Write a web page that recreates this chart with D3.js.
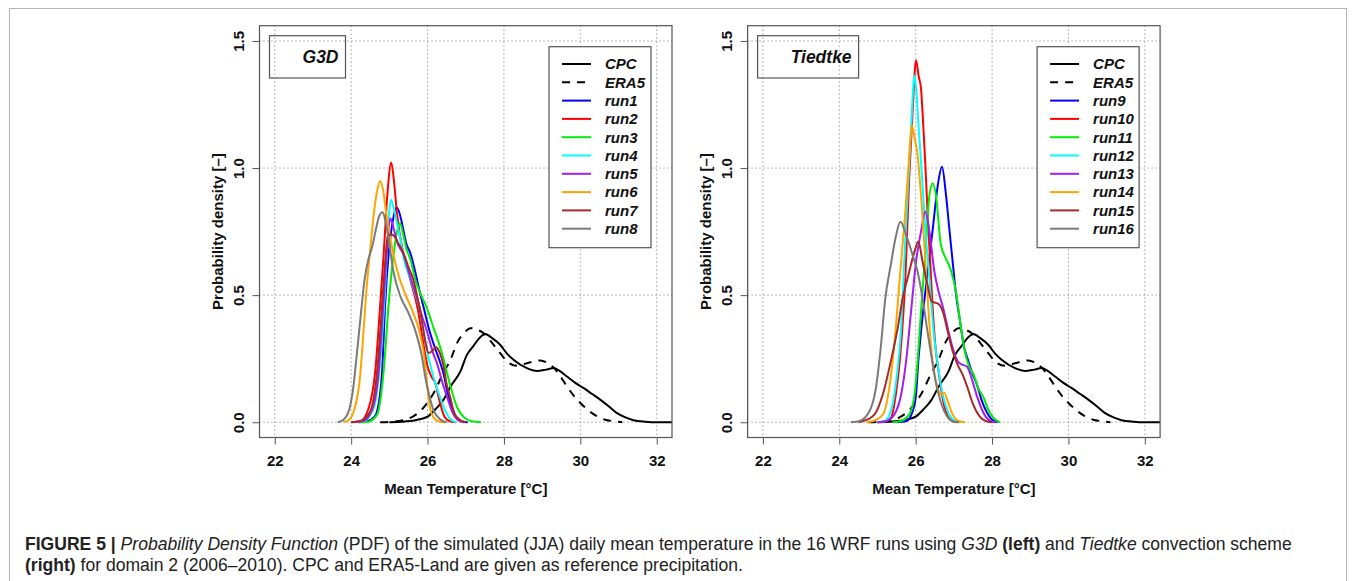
<!DOCTYPE html>
<html><head><meta charset="utf-8">
<script src="https://cdn.jsdelivr.net/npm/d3@7"></script>
<style>
body{margin:0;background:#fff}
svg{display:block}
text{font-family:"Liberation Sans",Arial,Helvetica,sans-serif}
</style>
</head><body>
<svg id="chart" width="1355" height="581"></svg>
<script>
// ---------------- DATA ----------------
const xTicks = [22, 24, 26, 28, 30, 32];
const yTicks = [0, 0.5, 1.0, 1.5];
const yTickLabels = ["0.0", "0.5", "1.0", "1.5"];
const xTitle = "Mean Temperature [°C]";
const yTitle = "Probability density [–]";
const panelTitles = ["G3D", "Tiedtke"];

const cpc = [[25.0,0],[25.4,0.003],[25.8,0.012],[26.0,0.022],[26.2,0.05],[26.42,0.089],[26.6,0.14],[26.86,0.2],[27.03,0.265],[27.2,0.3],[27.35,0.33],[27.51,0.347],[27.7,0.33],[27.9,0.305],[28.08,0.27],[28.25,0.246],[28.6,0.213],[28.86,0.202],[29.1,0.207],[29.3,0.213],[29.45,0.203],[29.65,0.18],[29.85,0.157],[30.08,0.135],[30.3,0.112],[30.52,0.089],[30.75,0.062],[30.95,0.037],[31.2,0.018],[31.39,0.008],[31.7,0.002],[32.0,0],[32.4,0]];
const era5 = [[24.76,0],[25.2,0.004],[25.55,0.017],[25.85,0.05],[26.16,0.115],[26.4,0.19],[26.6,0.246],[26.8,0.32],[26.94,0.348],[27.12,0.37],[27.3,0.364],[27.47,0.35],[27.7,0.31],[27.9,0.272],[28.1,0.237],[28.34,0.222],[28.6,0.232],[28.95,0.243],[29.12,0.235],[29.3,0.215],[29.48,0.18],[29.65,0.141],[29.85,0.1],[30.0,0.076],[30.2,0.048],[30.43,0.024],[30.65,0.01],[30.87,0.004],[31.1,0]];

const run1 = [[24.2,0],[24.42,0.004],[24.6,0.02],[24.68,0.043],[24.81,0.2],[24.89,0.462],[24.98,0.659],[25.1,0.8],[25.18,0.845],[25.25,0.83],[25.32,0.79],[25.45,0.7],[25.55,0.665],[25.68,0.59],[25.8,0.51],[25.9,0.45],[26.05,0.36],[26.2,0.29],[26.32,0.24],[26.42,0.19],[26.52,0.12],[26.64,0.06],[26.75,0.02],[26.9,0.003],[27.05,0]];
const run2 = [[24.0,0],[24.24,0.004],[24.46,0.056],[24.63,0.2],[24.76,0.462],[24.85,0.659],[24.95,0.9],[25.05,1.022],[25.12,0.95],[25.2,0.82],[25.37,0.66],[25.55,0.56],[25.75,0.44],[25.9,0.3],[26.0,0.22],[26.1,0.18],[26.2,0.155],[26.32,0.08],[26.45,0.02],[26.6,0.003],[26.75,0]];
const run3 = [[24.2,0],[24.42,0.001],[24.68,0.03],[24.85,0.2],[24.98,0.462],[25.11,0.659],[25.2,0.75],[25.28,0.783],[25.36,0.74],[25.45,0.68],[25.55,0.64],[25.68,0.56],[25.81,0.508],[25.98,0.45],[26.16,0.37],[26.3,0.31],[26.4,0.26],[26.51,0.194],[26.64,0.12],[26.77,0.06],[26.95,0.02],[27.15,0.004],[27.4,0]];
const run4 = [[24.1,0],[24.33,0.004],[24.59,0.056],[24.76,0.24],[24.89,0.528],[24.98,0.8],[25.04,0.875],[25.12,0.84],[25.19,0.79],[25.29,0.72],[25.37,0.65],[25.58,0.55],[25.8,0.44],[26.0,0.27],[26.15,0.18],[26.3,0.11],[26.45,0.05],[26.6,0.012],[26.75,0]];
const run5 = [[24.05,0],[24.3,0.004],[24.55,0.05],[24.72,0.2],[24.84,0.46],[24.93,0.66],[25.02,0.803],[25.1,0.77],[25.2,0.71],[25.37,0.66],[25.55,0.57],[25.7,0.5],[25.85,0.42],[25.98,0.36],[26.15,0.27],[26.25,0.23],[26.38,0.16],[26.51,0.1],[26.65,0.04],[26.77,0.012],[26.95,0]];
const run6 = [[23.8,0],[23.95,0.01],[24.1,0.06],[24.22,0.16],[24.32,0.35],[24.4,0.52],[24.5,0.68],[24.6,0.83],[24.68,0.91],[24.76,0.949],[24.84,0.91],[24.92,0.82],[25.03,0.72],[25.2,0.6],[25.4,0.51],[25.6,0.44],[25.78,0.36],[25.9,0.27],[25.98,0.16],[26.05,0.07],[26.15,0.02],[26.3,0.003],[26.45,0]];
const run7 = [[24.0,0],[24.24,0.004],[24.5,0.043],[24.68,0.2],[24.81,0.462],[24.89,0.632],[24.96,0.73],[25.05,0.74],[25.14,0.73],[25.25,0.7],[25.37,0.665],[25.5,0.61],[25.63,0.56],[25.75,0.48],[25.85,0.4],[25.95,0.31],[26.03,0.272],[26.12,0.28],[26.22,0.295],[26.3,0.28],[26.42,0.22],[26.5,0.15],[26.59,0.1],[26.7,0.035],[26.86,0.008],[27.0,0]];
const run8 = [[23.65,0],[23.8,0.01],[23.95,0.05],[24.05,0.13],[24.15,0.27],[24.25,0.42],[24.35,0.56],[24.45,0.64],[24.55,0.69],[24.65,0.76],[24.73,0.81],[24.82,0.826],[24.9,0.79],[24.98,0.72],[25.11,0.59],[25.29,0.495],[25.5,0.43],[25.68,0.36],[25.85,0.26],[25.95,0.17],[26.03,0.115],[26.15,0.05],[26.25,0.024],[26.4,0.004],[26.5,0]];

const run9 = [[25.5,0],[25.75,0.004],[25.92,0.043],[26.01,0.109],[26.07,0.24],[26.15,0.37],[26.29,0.56],[26.45,0.763],[26.58,0.933],[26.69,1.005],[26.79,0.9],[26.88,0.763],[26.97,0.63],[27.06,0.5],[27.16,0.4],[27.26,0.3],[27.36,0.25],[27.49,0.19],[27.6,0.15],[27.72,0.09],[27.86,0.04],[28.0,0.01],[28.15,0]];
const run10 = [[25.1,0],[25.35,0.017],[25.48,0.109],[25.62,0.305],[25.73,0.567],[25.83,0.959],[25.92,1.221],[26.01,1.424],[26.08,1.36],[26.14,1.313],[26.18,1.22],[26.25,1.025],[26.31,0.829],[26.38,0.632],[26.45,0.436],[26.53,0.279],[26.6,0.2],[26.66,0.135],[26.79,0.043],[26.97,0.004],[27.1,0]];
const run11 = [[25.4,0],[25.6,0.004],[25.83,0.03],[25.97,0.109],[26.05,0.24],[26.14,0.436],[26.27,0.698],[26.36,0.894],[26.45,0.94],[26.53,0.894],[26.66,0.698],[26.79,0.645],[26.92,0.6],[27.07,0.5],[27.16,0.4],[27.3,0.27],[27.4,0.22],[27.51,0.19],[27.65,0.13],[27.77,0.1],[27.9,0.05],[28.05,0.015],[28.2,0]];
const run12 = [[25.0,0],[25.18,0.004],[25.35,0.043],[25.5,0.174],[25.62,0.37],[25.7,0.632],[25.79,0.894],[25.88,1.156],[25.97,1.365],[26.02,1.3],[26.08,1.156],[26.17,0.959],[26.25,0.763],[26.36,0.567],[26.46,0.37],[26.58,0.226],[26.71,0.109],[26.88,0.03],[27.06,0.004],[27.2,0]];
const run13 = [[25.0,0],[25.22,0.004],[25.44,0.03],[25.62,0.109],[25.75,0.24],[25.88,0.436],[26.01,0.632],[26.14,0.75],[26.25,0.829],[26.36,0.75],[26.49,0.593],[26.6,0.514],[26.72,0.449],[26.84,0.37],[26.97,0.292],[27.1,0.24],[27.23,0.226],[27.34,0.22],[27.49,0.161],[27.62,0.096],[27.8,0.03],[27.97,0.004],[28.1,0]];
const run14 = [[24.7,0],[24.87,0.004],[25.14,0.03],[25.31,0.135],[25.44,0.305],[25.55,0.501],[25.62,0.632],[25.73,0.829],[25.82,1.025],[25.9,1.169],[25.97,1.12],[26.05,1.051],[26.14,0.894],[26.23,0.698],[26.31,0.501],[26.4,0.305],[26.49,0.187],[26.6,0.122],[26.68,0.11],[26.75,0.115],[26.84,0.082],[26.97,0.03],[27.14,0.004],[27.3,0]];
const run15 = [[24.5,0],[24.61,0.004],[24.92,0.03],[25.14,0.109],[25.35,0.24],[25.53,0.37],[25.66,0.488],[25.79,0.567],[25.97,0.671],[26.07,0.711],[26.18,0.632],[26.31,0.541],[26.42,0.475],[26.5,0.471],[26.6,0.465],[26.71,0.436],[26.84,0.357],[26.97,0.279],[27.1,0.226],[27.23,0.187],[27.36,0.135],[27.49,0.076],[27.67,0.024],[27.89,0.002],[28.0,0]];
const run16 = [[24.3,0],[24.52,0.004],[24.79,0.043],[24.96,0.135],[25.09,0.3],[25.2,0.48],[25.35,0.62],[25.48,0.73],[25.6,0.789],[25.75,0.737],[25.92,0.658],[26.05,0.593],[26.18,0.488],[26.31,0.357],[26.45,0.226],[26.58,0.122],[26.75,0.043],[26.97,0.004],[27.14,0]];

const leftNames = ["CPC","ERA5","run1","run2","run3","run4","run5","run6","run7","run8"];
const rightNames = ["CPC","ERA5","run9","run10","run11","run12","run13","run14","run15","run16"];
const leftSeries = [cpc, era5, run1, run2, run3, run4, run5, run6, run7, run8];
const rightSeries = [cpc, era5, run9, run10, run11, run12, run13, run14, run15, run16];

// ---------------- STYLE ----------------
const seriesColors = ["#000000","#000000","#0000FF","#FF0000","#00EE00","#00FFFF","#A020F0","#FFA500","#A52A2A","#7A7A7A"];
const seriesDash = [null,"8,7",null,null,null,null,null,null,null,null];
const font = '"Liberation Sans",Arial,Helvetica,sans-serif';

const svg = d3.select("#chart");

// outer figure frame
svg.append("rect").attr("x",9.5).attr("y",8.5).attr("width",1337).attr("height",600)
  .attr("fill","none").attr("stroke","#b5b5b5").attr("stroke-width",1);

const plotTop = 25.7, plotBottom = 437.5, plotW = 412.5;

function drawPanel(left, title, names, series, titleBoxW) {
  const g = svg.append("g");
  const x = d3.scaleLinear().domain([21.6, 32.4]).range([left, left + plotW]);
  const y = d3.scaleLinear().domain([-0.06, 1.56]).range([plotBottom, plotTop]);

  // grid
  const grid = g.append("g").attr("stroke","#777").attr("stroke-width",1).attr("stroke-dasharray","1,3");
  xTicks.forEach(t => grid.append("line").attr("x1",x(t)).attr("x2",x(t)).attr("y1",plotTop).attr("y2",plotBottom));
  yTicks.forEach(t => grid.append("line").attr("x1",left).attr("x2",left+plotW).attr("y1",y(t)).attr("y2",y(t)));

  // curves
  const line = d3.line().x(d => x(d[0])).y(d => y(d[1])).curve(d3.curveMonotoneX);
  series.forEach((s, i) => {
    g.append("path").attr("d", line(s)).attr("fill","none")
      .attr("stroke", seriesColors[i]).attr("stroke-width", 2)
      .attr("stroke-linejoin","round").attr("stroke-linecap","butt")
      .attr("stroke-dasharray", seriesDash[i]);
  });

  // frame
  g.append("rect").attr("x",left).attr("y",plotTop).attr("width",plotW).attr("height",plotBottom-plotTop)
    .attr("fill","none").attr("stroke","#555").attr("stroke-width",1.2);

  // axes
  const xAxis = d3.axisBottom(x).tickValues(xTicks).tickSize(7).tickPadding(3).tickFormat(d3.format("d"));
  const xa = g.append("g").attr("transform",`translate(0,${plotBottom})`).call(xAxis);
  xa.select(".domain").attr("stroke","#555").attr("d",`M${x(22)},0H${x(32)}`);
  xa.selectAll(".tick line").attr("stroke","#555");
  xa.selectAll(".tick text").attr("font-family",font).attr("font-size",15).attr("font-weight","bold")
    .attr("fill","#111").attr("dy",null).attr("y",28.5);

  const yAxis = d3.axisLeft(y).tickValues(yTicks).tickSize(7).tickFormat((d,i) => yTickLabels[i]);
  const ya = g.append("g").attr("transform",`translate(${left},0)`).call(yAxis);
  ya.select(".domain").attr("stroke","#555").attr("d",`M0,${y(0)}V${y(1.5)}`);
  ya.selectAll(".tick line").attr("stroke","#555");
  ya.selectAll(".tick text").attr("font-family",font).attr("font-size",15).attr("font-weight","bold")
    .attr("fill","#111").attr("dy",null).attr("x",null).attr("text-anchor","middle")
    .attr("transform","translate(-15.5,0) rotate(-90)");

  // axis titles
  g.append("text").attr("x", left + plotW/2).attr("y", 494).attr("text-anchor","middle")
    .attr("font-family",font).attr("font-size",15).attr("font-weight","bold").attr("fill","#111").text(xTitle);
  g.append("text").attr("transform",`translate(${left-37},${(plotTop+plotBottom)/2}) rotate(-90)`)
    .attr("text-anchor","middle").attr("font-family",font).attr("font-size",15).attr("font-weight","bold")
    .attr("fill","#111").text(yTitle);

  // panel title box
  g.append("rect").attr("x",left+10).attr("y",35.7).attr("width",titleBoxW).attr("height",42.3)
    .attr("fill","none").attr("stroke","#555").attr("stroke-width",1.2);
  g.append("text").attr("x",left+10+titleBoxW-7).attr("y",63).attr("text-anchor","end")
    .attr("font-family",font).attr("font-size",17.5).attr("font-weight","bold").attr("font-style","italic")
    .attr("fill","#111").text(title);

  // legend
  const lx = left + 289.5, ly = 46.7, lw = 102, lh = 201;
  g.append("rect").attr("x",lx).attr("y",ly).attr("width",lw).attr("height",lh)
    .attr("fill","#fff").attr("stroke","#555").attr("stroke-width",1.2);
  names.forEach((n, i) => {
    const ry = ly + 17.3 + i*18.3;
    g.append("line").attr("x1",lx+13).attr("x2",lx+42).attr("y1",ry).attr("y2",ry)
      .attr("stroke",seriesColors[i]).attr("stroke-width",2).attr("stroke-dasharray",seriesDash[i]);
    g.append("text").attr("x",lx+56).attr("y",ry+5.3)
      .attr("font-family",font).attr("font-size",15).attr("font-weight","bold").attr("font-style","italic")
      .attr("fill","#111").text(n);
  });
}

drawPanel(259.5, panelTitles[0], leftNames, leftSeries, 76);
drawPanel(747.6, panelTitles[1], rightNames, rightSeries, 101);

// caption
const cap1 = [
  {t:"FIGURE 5 | ", w:"bold"},
  {t:"Probability Density Function", s:"italic"},
  {t:" (PDF) of the simulated (JJA) daily mean temperature in the 16 WRF runs using "},
  {t:"G3D", s:"italic"},
  {t:" (left)", w:"bold"},
  {t:" and "},
  {t:"Tiedtke", s:"italic"},
  {t:" convection scheme"}
];
const cap2 = [
  {t:"(right)", w:"bold"},
  {t:" for domain 2 (2006–2010). CPC and ERA5-Land are given as reference precipitation."}
];
function capLine(parts, yb) {
  const t = svg.append("text").attr("x",25).attr("y",yb).attr("font-family",font)
    .attr("font-size",15).attr("fill","#222").attr("xml:space","preserve");
  parts.forEach(p => t.append("tspan").attr("font-weight",p.w||"normal").attr("font-style",p.s||"normal").text(p.t));
  return t;
}
const l1 = capLine(cap1, 550);
const l2 = capLine(cap2, 571);
const w1 = l1.node().getComputedTextLength();
const fs = 15 * 1267 / w1;
l1.attr("font-size", fs);
l2.attr("font-size", fs);
</script>
</body></html>
